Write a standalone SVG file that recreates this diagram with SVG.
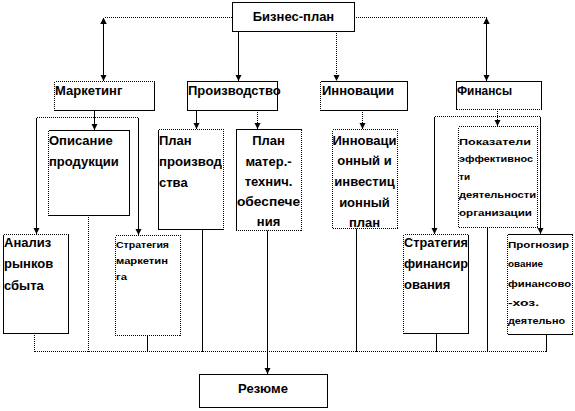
<svg xmlns="http://www.w3.org/2000/svg" width="575" height="411" viewBox="0 0 575 411">
<style>
.s{fill:none;stroke:#000;stroke-width:1;shape-rendering:crispEdges}
.d{fill:none;stroke:#000;stroke-width:1;stroke-dasharray:1 1;shape-rendering:crispEdges}
.bg{fill:#fff;stroke:none}
.t{font-family:"Liberation Sans",Arial,sans-serif;font-weight:bold;font-size:13px;fill:#000}
.sm{font-size:8.5px}
.m{text-anchor:middle}
</style>
<defs>
<marker id="ah" viewBox="0 0 8 8" refX="8" refY="4" markerWidth="6.5" markerHeight="6.5" markerUnits="userSpaceOnUse" orient="auto-start-reverse">
<path d="M0,0 L8,4 L0,8 z" fill="#000" stroke="none"/>
</marker>
</defs>
<rect width="575" height="411" fill="#fff"/>

<g id="connectors">
<path class="d" d="M232,17.5 H103.5"/>
<path class="d" d="M354,17.5 H486.5"/>
<path class="s" d="M103.5,17.5 V81" marker-start="url(#ah)" marker-end="url(#ah)"/>
<path class="s" d="M486.5,17.5 V81" marker-start="url(#ah)" marker-end="url(#ah)"/>
<path class="s" d="M238.5,31 V81" marker-end="url(#ah)"/>
<path class="d" d="M336.5,31 V81" marker-end="url(#ah)"/>
<path class="s" d="M94.5,110 V130" marker-end="url(#ah)"/>
<path class="d" d="M36.5,117.5 H138.5"/>
<path class="s" d="M36.5,117.5 V234" marker-end="url(#ah)"/>
<path class="s" d="M138.5,117.5 V235" marker-end="url(#ah)"/>
<path class="s" d="M196.5,110 V129" marker-end="url(#ah)"/>
<path class="d" d="M257.5,110 V129" marker-end="url(#ah)"/>
<path class="d" d="M362.5,110 V129" marker-end="url(#ah)"/>
<path class="d" d="M497.5,109 V126" marker-end="url(#ah)"/>
<path class="d" d="M434.5,116.5 H540.5"/>
<path class="s" d="M434.5,116.5 V234" marker-end="url(#ah)"/>
<path class="s" d="M540.5,116.5 V234" marker-end="url(#ah)"/>
<path class="d" d="M34.5,351.5 H546.5"/>
<path class="d" d="M34.5,333 V351.5"/>
<path class="d" d="M88.5,215 V351.5"/>
<path class="s" d="M147.5,335 V351.5 M202.5,229 V351.5 M356.5,228 V351.5 M436.5,333 V351.5 M487.5,227 V351.5 M546.5,334 V351.5"/>
<path class="s" d="M267.5,230 V374" marker-end="url(#ah)"/>
</g>

<g id="biz">
<rect class="bg" x="232.5" y="2.5" width="122" height="29"/>
<rect class="s" x="232.5" y="2.5" width="122" height="29"/>
<text class="t m" x="293.5" y="21">Бизнес-план</text>
</g>

<g id="marketing">
<rect class="bg" x="54.5" y="81.5" width="100" height="29"/>
<path class="d" d="M54.5,110.5 V81.5 H154.5"/>
<path class="s" d="M154.5,81.5 V110.5 H54.5"/>
<text class="t" x="55" y="95">Маркетинг</text>
</g>

<g id="production">
<rect class="bg" x="187.5" y="81.5" width="90" height="29"/>
<rect class="s" x="187.5" y="81.5" width="90" height="29"/>
<text class="t" x="188" y="95">Производство</text>
</g>

<g id="innovation">
<rect class="bg" x="320.5" y="81.5" width="87" height="29"/>
<path class="s" d="M320.5,81.5 H407.5 V110.5 H320.5"/>
<path class="d" d="M320.5,81.5 V110.5"/>
<text class="t" x="322" y="95">Инновации</text>
</g>

<g id="finance">
<rect class="bg" x="456.5" y="81.5" width="85" height="28"/>
<path class="s" d="M456.5,109.5 V81.5 H541.5 V109.5"/>
<path class="d" d="M456.5,109.5 H541.5"/>
<text class="t" x="457" y="95" font-size="12" textLength="55" lengthAdjust="spacingAndGlyphs">Финансы</text>
</g>

<g id="product">
<rect class="bg" x="48.5" y="130.5" width="81" height="85"/>
<path class="s" d="M48.5,130.5 H129.5 V215.5 H48.5"/>
<path class="d" d="M48.5,130.5 V215.5"/>
<text class="t" x="49" y="145">Описание</text>
<text class="t" x="49" y="166">продукции</text>
</g>

<g id="prodplan">
<rect class="bg" x="158.5" y="129.5" width="65" height="100"/>
<path class="d" d="M158.5,129.5 H223.5 V229.5"/>
<path class="s" d="M158.5,129.5 V229.5 H223.5"/>
<text class="t" x="159" y="145">План</text>
<text class="t" x="159" y="166" textLength="63" lengthAdjust="spacingAndGlyphs">производ</text>
<text class="t" x="159" y="187">ства</text>
</g>

<g id="matplan">
<rect class="bg" x="236.5" y="129.5" width="65" height="101"/>
<path class="s" d="M236.5,230.5 V129.5 H301.5"/>
<path class="d" d="M301.5,129.5 V230.5 H236.5"/>
<text class="t m" x="268.5" y="145">План</text>
<text class="t m" x="268.5" y="166">матер.-</text>
<text class="t m" x="268.5" y="186">технич.</text>
<text class="t m" x="268.5" y="206" textLength="63" lengthAdjust="spacingAndGlyphs">обеспече</text>
<text class="t m" x="268.5" y="226">ния</text>
</g>

<g id="innovplan">
<rect class="bg" x="332.5" y="129.5" width="65" height="99"/>
<rect class="d" x="332.5" y="129.5" width="65" height="99"/>
<text class="t m" x="364.5" y="145">Инноваци</text>
<text class="t m" x="364.5" y="165">онный и</text>
<text class="t m" x="364.5" y="186">инвестиц</text>
<text class="t m" x="364.5" y="207">ионный</text>
<text class="t m" x="364.5" y="227">план</text>
</g>

<g id="indicators">
<rect class="bg" x="458.5" y="126.5" width="79" height="101"/>
<rect class="d" x="458.5" y="126.5" width="79" height="101"/>
<text class="t sm" x="459" y="144.5" textLength="72" lengthAdjust="spacingAndGlyphs">Показатели</text>
<text class="t sm" x="459" y="162" textLength="74" lengthAdjust="spacingAndGlyphs">эффективнос</text>
<text class="t sm" x="459" y="180" textLength="11" lengthAdjust="spacingAndGlyphs">ти</text>
<text class="t sm" x="459" y="198" textLength="77" lengthAdjust="spacingAndGlyphs">деятельности</text>
<text class="t sm" x="459" y="215.5" textLength="73" lengthAdjust="spacingAndGlyphs">организации</text>
</g>

<g id="market">
<rect class="bg" x="3.5" y="234.5" width="65" height="99"/>
<path class="d" d="M3.5,234.5 H68.5"/>
<path class="s" d="M68.5,234.5 V333.5 H3.5 V234.5"/>
<text class="t" x="4" y="247">Анализ</text>
<text class="t" x="4" y="268">рынков</text>
<text class="t" x="4" y="290">сбыта</text>
</g>

<g id="mstrategy">
<rect class="bg" x="115.5" y="235.5" width="65" height="100"/>
<rect class="d" x="115.5" y="235.5" width="65" height="100"/>
<text class="t sm" x="116" y="248" textLength="53" lengthAdjust="spacingAndGlyphs">Стратегия</text>
<text class="t sm" x="116" y="264" textLength="52" lengthAdjust="spacingAndGlyphs">маркетин</text>
<text class="t sm" x="116" y="279.5" textLength="11" lengthAdjust="spacingAndGlyphs">га</text>
</g>

<g id="fstrategy">
<rect class="bg" x="403.5" y="234.5" width="65" height="99"/>
<path class="d" d="M403.5,333.5 V234.5 H468.5"/>
<path class="s" d="M468.5,234.5 V333.5 H403.5"/>
<text class="t" x="404" y="247" textLength="64" lengthAdjust="spacingAndGlyphs">Стратегия</text>
<text class="t" x="404" y="268" textLength="64" lengthAdjust="spacingAndGlyphs">финансир</text>
<text class="t" x="404" y="289">ования</text>
</g>

<g id="forecast">
<rect class="bg" x="507.5" y="234.5" width="65" height="100"/>
<path class="s" d="M507.5,234.5 H572.5 M507.5,334.5 H572.5"/>
<path class="d" d="M507.5,234.5 V334.5 M572.5,234.5 V334.5"/>
<text class="t sm" x="508" y="247.5" textLength="61" lengthAdjust="spacingAndGlyphs">Прогнозир</text>
<text class="t sm" x="508" y="267" textLength="35" lengthAdjust="spacingAndGlyphs">ование</text>
<text class="t sm" x="508" y="287" textLength="63" lengthAdjust="spacingAndGlyphs">финансово</text>
<text class="t sm" x="508" y="305.5" textLength="31" lengthAdjust="spacingAndGlyphs">-хоз.</text>
<text class="t sm" x="508" y="324" textLength="57" lengthAdjust="spacingAndGlyphs">деятельно</text>
</g>

<g id="summary">
<rect class="bg" x="199.5" y="374.5" width="128" height="33"/>
<rect class="s" x="199.5" y="374.5" width="128" height="33"/>
<text class="t m" x="263" y="393">Резюме</text>
</g>
</svg>
